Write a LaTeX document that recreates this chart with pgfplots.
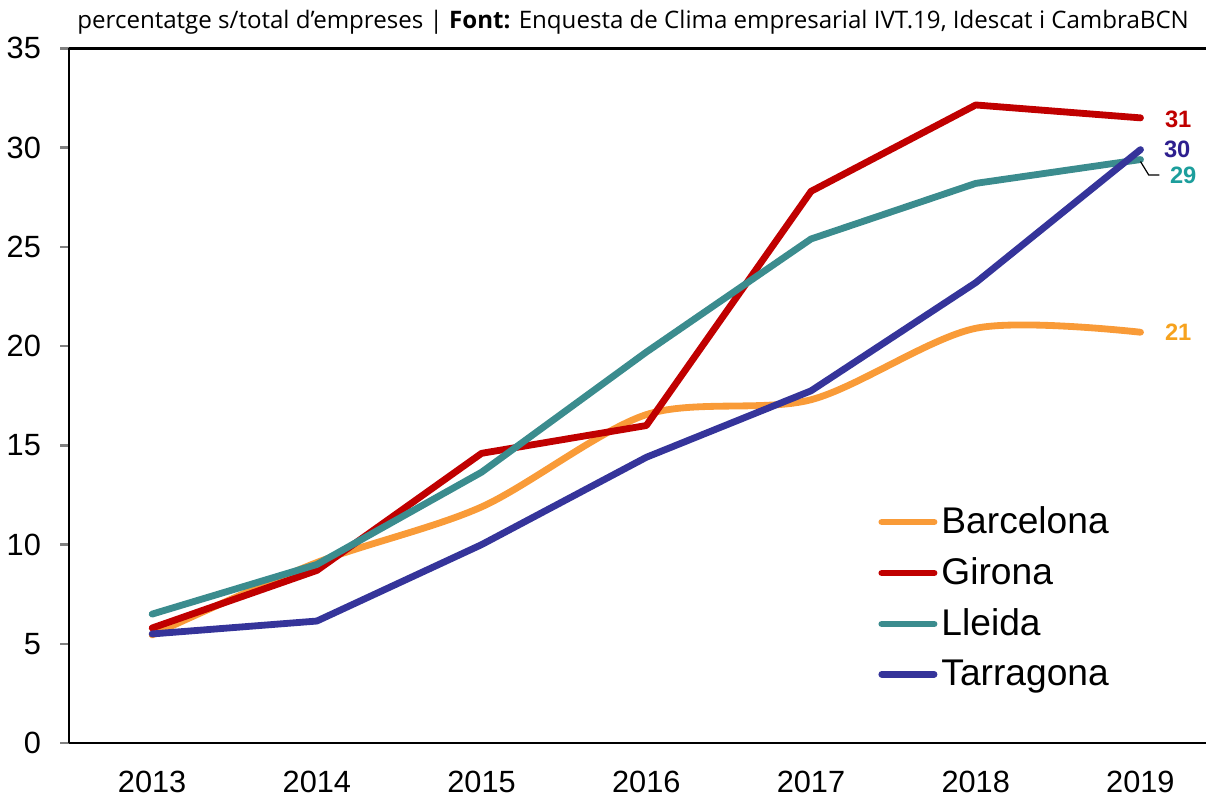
\documentclass[border=0pt]{standalone}
\usepackage{fontspec}
\setmainfont{Liberation Sans}
\newfontfamily\titlefont{Open Sans}
\usepackage{pgfplots}
\pgfplotsset{compat=1.18}

\definecolor{cbcn}{HTML}{F99B38}
\definecolor{cgir}{HTML}{C00000}
\definecolor{clle}{HTML}{3B8C8E}
\definecolor{ctar}{HTML}{35349A}
\definecolor{lbcn}{HTML}{F6A21E}
\definecolor{llle}{HTML}{1C9E9C}
\definecolor{ltar}{HTML}{2E1F8F}

\begin{document}
\begin{tikzpicture}
\begin{axis}[
    name=main,
    scale only axis,
    width=566.5pt, height=346pt,
    xmin=2012.495, xmax=2019.4,
    ymin=0, ymax=35,
    axis x line=bottom,
    axis y line=left,
    axis line style={-, line width=1.2pt},
    xtick={2013,...,2019},
    ytick={0,5,...,35},
    x tick style={draw=none},
    y tick style={line width=1.2pt},
    tick align=outside,
    major tick length=4.5pt,
    /pgf/number format/1000 sep={},
    /pgf/number format/assume math mode=true,
    tick label style={font=\fontsize{15.3}{16}\selectfont},
    xticklabel style={yshift=-6pt},
    yticklabel style={xshift=-6pt},
    legend style={at={(0.706,0.352)}, anchor=north west, draw=none, fill=none,
        font=\fontsize{18.5}{20}\selectfont, row sep=6.5pt,
        cells={anchor=west}},
    legend image code/.code={\draw[#1, line cap=round] (0pt,0pt) -- (26pt,0pt);},
    every axis plot/.append style={line width=3.4pt, line cap=round, line join=round},
    clip=false,
]
\addplot[cbcn, smooth, tension=0.5] coordinates {
    (2013,5.45) (2014,9.1) (2015,11.9) (2016,16.55) (2017,17.3) (2018,20.9) (2019,20.7)
};
\addlegendentry{Barcelona}
\addplot[cgir] coordinates {
    (2013,5.8) (2014,8.7) (2015,14.6) (2016,16.0) (2017,27.8) (2018,32.15) (2019,31.5)
};
\addlegendentry{Girona}
\addplot[clle] coordinates {
    (2013,6.5) (2014,9.0) (2015,13.65) (2016,19.7) (2017,25.4) (2018,28.2) (2019,29.4)
};
\addlegendentry{Lleida}
\addplot[ctar] coordinates {
    (2013,5.5) (2014,6.15) (2015,10.0) (2016,14.4) (2017,17.75) (2018,23.2) (2019,29.9)
};
\addlegendentry{Tarragona}

% top rule at 35
\draw[black, line width=1.6pt] (axis cs:2012.495,35) -- (axis cs:2019.4,35);

\begin{scope}[every node/.style={anchor=west, inner sep=0pt, font=\bfseries\fontsize{11.8}{12}\selectfont}]
\node[text=cgir, xshift=12pt] at (axis cs:2019,31.4) {31};
\node[text=ltar, xshift=11.5pt] at (axis cs:2019,29.9) {30};
\node[text=llle, xshift=14.5pt] at (axis cs:2019,28.6) {29};
\node[text=lbcn, xshift=12pt] at (axis cs:2019,20.7) {21};
\end{scope}
\draw[black, line width=0.6pt] (axis cs:2019,29.3) -- (axis cs:2019.05,28.62) -- (axis cs:2019.115,28.62);
\end{axis}
\node[anchor=south west, inner sep=0pt, font=\titlefont\fontsize{12}{14}\selectfont]
    at ([xshift=4pt, yshift=7pt]main.north west)
    {\rule{0pt}{14pt}percentatge s/total d’empreses | \textbf{Font:} Enquesta de Clima empresarial IVT.19, Idescat i CambraBCN};
\end{tikzpicture}
\end{document}
